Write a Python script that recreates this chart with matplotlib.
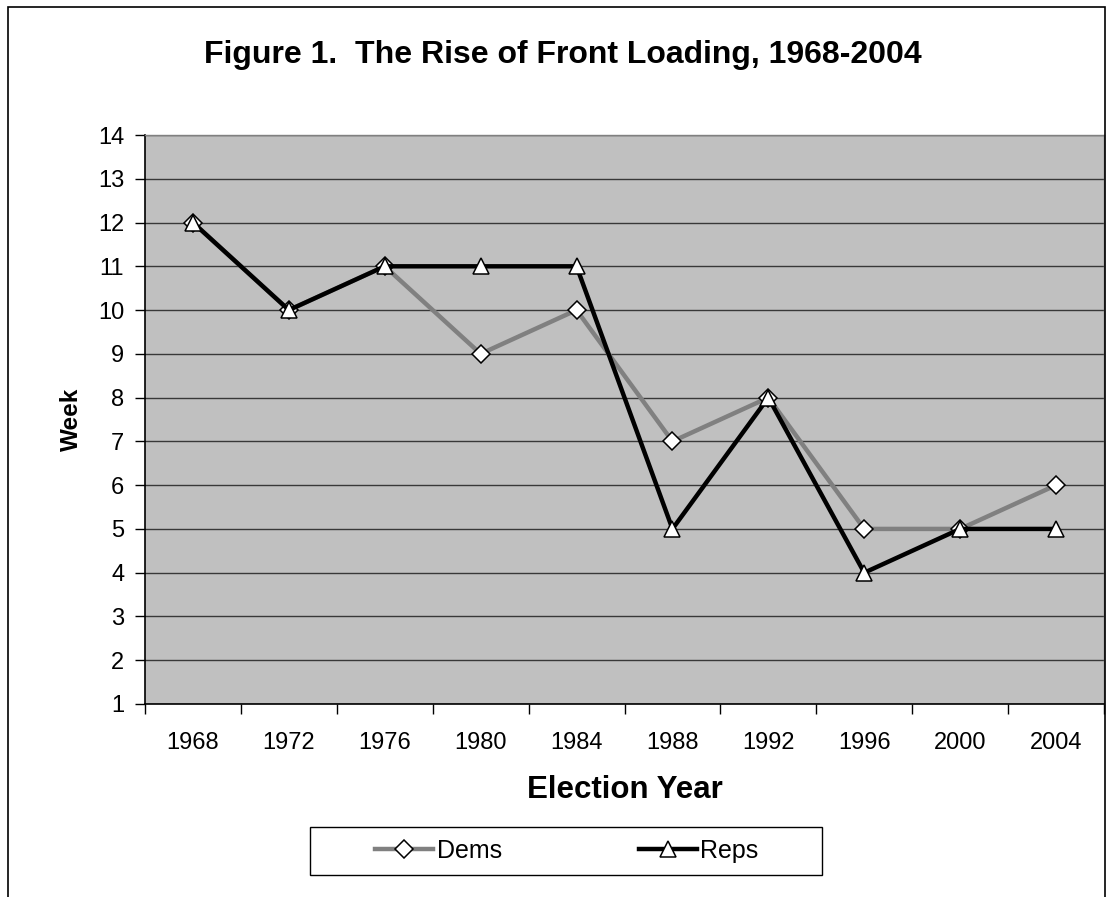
import matplotlib.pyplot as plt
from matplotlib.patches import Rectangle

# data
years = ['1968', '1972', '1976', '1980', '1984', '1988', '1992', '1996', '2000', '2004']
dems = [12, 10, 11, 9, 10, 7, 8, 5, 5, 6]
reps = [12, 10, 11, 11, 11, 5, 8, 4, 5, 5]
week_ticks = list(range(1, 15))

plt.rcParams['font.family'] = ['Liberation Sans', 'DejaVu Sans']

W, H = 1106, 897
fig = plt.figure(figsize=(W / 100, H / 100), dpi=100)

# outer chart border (bottom runs off the picture)
fig.add_artist(Rectangle((8 / W, -0.05), (1105 - 8) / W, 1.05 - 7 / H,
                         transform=fig.transFigure, fill=False,
                         edgecolor='black', linewidth=1.2))

ax = fig.add_axes([145 / W, 1 - 704 / H, (1104 - 145) / W, (704 - 135) / H])
ax.set_facecolor('#C0C0C0')

x = list(range(len(years)))
ax.plot(x, dems, color='#808080', linewidth=3.2, marker='D', markersize=9,
        markerfacecolor='white', markeredgecolor='black', markeredgewidth=1.1,
        label='Dems', zorder=3)
ax.plot(x, reps, color='black', linewidth=3.2, marker='^', markersize=12,
        markerfacecolor='white', markeredgecolor='black', markeredgewidth=1.1,
        label='Reps', zorder=4)

ax.set_xlim(-0.5, len(years) - 0.5)
ax.set_ylim(1, 14)
ax.set_yticks(week_ticks)
ax.yaxis.grid(True, color='#383838', linewidth=1)
ax.set_axisbelow(True)

ax.set_xticks(x)
ax.set_xticklabels(years)
ax.set_xticks([i - 0.5 for i in range(len(years) + 1)], minor=True)
ax.tick_params(axis='x', which='major', length=0, pad=20, labelsize=17)
ax.tick_params(axis='x', which='minor', length=7, width=1, direction='out')
ax.tick_params(axis='y', length=7, width=1, direction='out', pad=8, labelsize=17)

for s in ['top', 'right']:
    ax.spines[s].set_color('#808080')
    ax.spines[s].set_linewidth(1)
for s in ['left', 'bottom']:
    ax.spines[s].set_color('black')
    ax.spines[s].set_linewidth(1.2)

ax.set_ylabel('Week', fontsize=17.5, fontweight='bold', labelpad=11)
ax.set_xlabel('Election Year', fontsize=22.5, fontweight='bold', labelpad=15)

fig.text(563 / W, 1 - 55 / H, 'Figure 1.  The Rise of Front Loading, 1968-2004',
         ha='center', va='center', fontsize=23, fontweight='bold')

# legend box drawn separately so it can be wider than the entries
fig.add_artist(Rectangle((310 / W, 1 - 875 / H), (822 - 310) / W, 48 / H,
                         transform=fig.transFigure, fill=True, facecolor='white',
                         edgecolor='black', linewidth=1))
leg = fig.legend(loc='center', bbox_to_anchor=(567 / W, 1 - 851 / H), ncol=2,
                 frameon=False, handlelength=2.3, handletextpad=0.15,
                 columnspacing=5.5, fontsize=18)

fig.savefig('out.png', dpi=100)
